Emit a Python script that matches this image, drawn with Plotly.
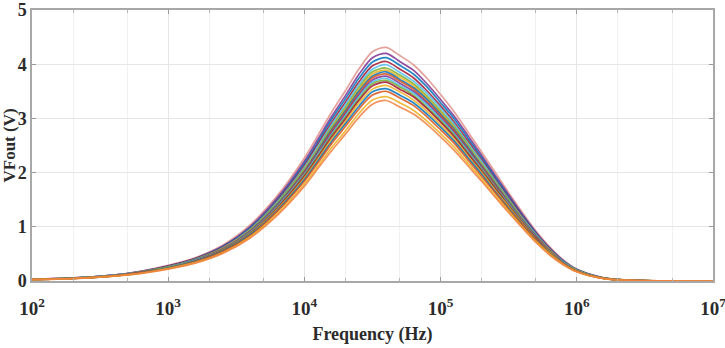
import plotly.graph_objects as go

# Frequency grid (Hz)
freq = [100, 200, 400, 630, 1000, 1580, 2510, 3980, 6310, 10000, 12600, 15800,
        20000, 25100, 31600, 39800, 50100, 63100, 79400, 100000, 126000, 158000,
        200000, 251000, 316000, 398000, 501000, 631000, 794000, 1000000, 1580000,
        2510000, 5010000, 10000000]

# Monte Carlo output curves VFout (V)
run01 = [0.034, 0.057, 0.11, 0.18, 0.29, 0.43, 0.66, 1.03, 1.57, 2.27, 2.69, 3.11, 3.51, 3.91, 4.23, 4.31, 4.16, 3.99, 3.74, 3.44, 3.12, 2.76, 2.38, 2.01, 1.63, 1.27, 0.92, 0.63, 0.39, 0.22, 0.057, 0.014, 0.002, 0]
run02 = [0.033, 0.056, 0.11, 0.18, 0.28, 0.42, 0.64, 1.00, 1.53, 2.21, 2.62, 3.03, 3.42, 3.81, 4.12, 4.20, 4.05, 3.89, 3.64, 3.35, 3.04, 2.69, 2.32, 1.95, 1.59, 1.23, 0.90, 0.61, 0.38, 0.21, 0.056, 0.013, 0.002, 0]
run03 = [0.033, 0.055, 0.11, 0.17, 0.27, 0.41, 0.63, 0.98, 1.50, 2.17, 2.57, 2.98, 3.36, 3.74, 4.04, 4.12, 3.98, 3.82, 3.58, 3.29, 2.99, 2.64, 2.28, 1.92, 1.56, 1.21, 0.88, 0.60, 0.37, 0.21, 0.055, 0.013, 0.002, 0]
run04 = [0.032, 0.054, 0.11, 0.17, 0.27, 0.41, 0.62, 0.96, 1.48, 2.13, 2.53, 2.92, 3.30, 3.67, 3.97, 4.05, 3.91, 3.75, 3.51, 3.23, 2.93, 2.59, 2.24, 1.88, 1.53, 1.19, 0.87, 0.59, 0.36, 0.20, 0.054, 0.013, 0.002, 0]
run05 = [0.032, 0.053, 0.11, 0.17, 0.26, 0.40, 0.61, 0.95, 1.46, 2.10, 2.49, 2.88, 3.25, 3.62, 3.91, 3.99, 3.85, 3.69, 3.46, 3.19, 2.89, 2.55, 2.21, 1.86, 1.51, 1.17, 0.86, 0.58, 0.36, 0.20, 0.053, 0.013, 0.002, 0]
run06 = [0.031, 0.052, 0.10, 0.17, 0.26, 0.40, 0.60, 0.94, 1.44, 2.07, 2.45, 2.84, 3.20, 3.57, 3.86, 3.93, 3.80, 3.64, 3.41, 3.14, 2.85, 2.52, 2.17, 1.83, 1.49, 1.15, 0.84, 0.57, 0.35, 0.20, 0.052, 0.012, 0.002, 0]
run07 = [0.031, 0.052, 0.10, 0.16, 0.26, 0.39, 0.60, 0.93, 1.42, 2.05, 2.43, 2.81, 3.17, 3.53, 3.82, 3.89, 3.76, 3.61, 3.38, 3.11, 2.82, 2.49, 2.15, 1.81, 1.47, 1.14, 0.83, 0.57, 0.35, 0.20, 0.052, 0.012, 0.002, 0]
run08 = [0.031, 0.051, 0.10, 0.16, 0.26, 0.39, 0.59, 0.92, 1.41, 2.03, 2.41, 2.79, 3.14, 3.50, 3.78, 3.86, 3.72, 3.57, 3.35, 3.08, 2.80, 2.47, 2.13, 1.80, 1.46, 1.13, 0.83, 0.56, 0.35, 0.19, 0.051, 0.012, 0.002, 0]
run09 = [0.030, 0.051, 0.10, 0.16, 0.25, 0.38, 0.59, 0.91, 1.39, 2.01, 2.38, 2.76, 3.11, 3.46, 3.75, 3.82, 3.69, 3.54, 3.31, 3.05, 2.77, 2.44, 2.11, 1.78, 1.44, 1.12, 0.82, 0.56, 0.34, 0.19, 0.051, 0.012, 0.002, 0]
run10 = [0.030, 0.050, 0.10, 0.16, 0.25, 0.38, 0.58, 0.90, 1.38, 1.99, 2.36, 2.73, 3.08, 3.43, 3.71, 3.78, 3.65, 3.50, 3.28, 3.02, 2.74, 2.42, 2.09, 1.76, 1.43, 1.11, 0.81, 0.55, 0.34, 0.19, 0.050, 0.012, 0.002, 0]
run11 = [0.030, 0.050, 0.10, 0.16, 0.25, 0.38, 0.57, 0.89, 1.37, 1.97, 2.34, 2.70, 3.05, 3.40, 3.67, 3.74, 3.61, 3.47, 3.25, 2.99, 2.71, 2.40, 2.07, 1.74, 1.42, 1.10, 0.80, 0.54, 0.34, 0.19, 0.050, 0.012, 0.002, 0]
run12 = [0.029, 0.049, 0.098, 0.16, 0.25, 0.37, 0.57, 0.88, 1.35, 1.95, 2.31, 2.68, 3.02, 3.36, 3.64, 3.70, 3.58, 3.43, 3.21, 2.96, 2.69, 2.37, 2.05, 1.73, 1.40, 1.09, 0.79, 0.54, 0.33, 0.19, 0.049, 0.012, 0.002, 0]
run13 = [0.029, 0.049, 0.097, 0.16, 0.24, 0.37, 0.56, 0.87, 1.34, 1.93, 2.29, 2.65, 2.99, 3.33, 3.60, 3.67, 3.54, 3.40, 3.18, 2.93, 2.66, 2.35, 2.03, 1.71, 1.39, 1.08, 0.79, 0.53, 0.33, 0.18, 0.049, 0.012, 0.002, 0]
run14 = [0.029, 0.048, 0.096, 0.15, 0.24, 0.36, 0.55, 0.86, 1.32, 1.90, 2.25, 2.61, 2.94, 3.28, 3.54, 3.61, 3.49, 3.34, 3.13, 2.88, 2.62, 2.31, 2.00, 1.68, 1.37, 1.06, 0.77, 0.53, 0.32, 0.18, 0.048, 0.011, 0.002, 0]
run15 = [0.028, 0.047, 0.094, 0.15, 0.24, 0.36, 0.55, 0.85, 1.30, 1.87, 2.22, 2.57, 2.90, 3.22, 3.49, 3.55, 3.43, 3.29, 3.08, 2.84, 2.58, 2.28, 1.97, 1.65, 1.34, 1.04, 0.76, 0.52, 0.32, 0.18, 0.047, 0.011, 0.002, 0]
run16 = [0.028, 0.046, 0.093, 0.15, 0.23, 0.35, 0.54, 0.83, 1.28, 1.84, 2.18, 2.53, 2.85, 3.17, 3.43, 3.50, 3.38, 3.24, 3.03, 2.79, 2.54, 2.24, 1.93, 1.63, 1.32, 1.03, 0.75, 0.51, 0.32, 0.18, 0.046, 0.011, 0.002, 0]
run17 = [0.027, 0.045, 0.090, 0.14, 0.23, 0.34, 0.52, 0.81, 1.24, 1.79, 2.12, 2.46, 2.77, 3.09, 3.34, 3.40, 3.29, 3.15, 2.95, 2.72, 2.47, 2.18, 1.88, 1.58, 1.29, 1.00, 0.73, 0.50, 0.31, 0.17, 0.045, 0.011, 0.002, 0]
run18 = [0.026, 0.044, 0.088, 0.14, 0.22, 0.33, 0.51, 0.79, 1.21, 1.75, 2.08, 2.40, 2.71, 3.02, 3.26, 3.33, 3.21, 3.08, 2.89, 2.66, 2.41, 2.13, 1.84, 1.55, 1.26, 0.98, 0.71, 0.48, 0.30, 0.17, 0.044, 0.011, 0.002, 0]

runs = [run01, run02, run03, run04, run05, run06, run07, run08, run09,
        run10, run11, run12, run13, run14, run15, run16, run17, run18]

colors = ["#E0908A", "#7E2F8E", "#0072BD", "#A2142F", "#4DBEEE", "#77AC30",
          "#EDB120", "#0072BD", "#D95319", "#7E2F8E", "#4DBEEE", "#77AC30",
          "#A2142F", "#EDB120", "#0072BD", "#D95319", "#EDB120", "#F08040"]

xtick_vals = [1e2, 1e3, 1e4, 1e5, 1e6, 1e7]
xtick_text = ["10<sup>2</sup>", "10<sup>3</sup>", "10<sup>4</sup>",
              "10<sup>5</sup>", "10<sup>6</sup>", "10<sup>7</sup>"]
ytick_vals = [0, 1, 2, 3, 4, 5]

fig = go.Figure()
for r, c in zip(runs, colors):
    fig.add_trace(go.Scatter(x=freq, y=r, mode="lines",
                             line=dict(color=c, width=1.7, shape="spline", smoothing=0.8),
                             opacity=0.85, showlegend=False, hoverinfo="skip"))

txt = "#2B2B2B"
fig.update_layout(
    width=725, height=348,
    margin=dict(l=32, r=12, t=10, b=67, autoexpand=False),
    paper_bgcolor="white", plot_bgcolor="white",
    showlegend=False,
    font=dict(family="Liberation Serif", size=17, color=txt, weight="bold"),
)
fig.update_xaxes(
    type="log", range=[2, 7], automargin=False,
    tickvals=xtick_vals, ticktext=xtick_text,
    tickfont=dict(family="Liberation Serif", size=19, color=txt, weight="bold"),
    ticklabelstandoff=9, ticklabeloverflow="allow",
    ticks="inside", ticklen=4, tickcolor="#999999",
    showline=True, linecolor="#A8A8A8", linewidth=1.5, mirror="ticks",
    showgrid=True, gridcolor="#E6E6E6", gridwidth=1,
    minor=dict(ticks="inside", ticklen=3, tickcolor="#B5B5B5", showgrid=True,
               gridcolor="#F1F1F1", gridwidth=1),
    title=dict(text="Frequency (Hz)", standoff=10,
               font=dict(family="Liberation Serif", size=18, color=txt, weight="bold")),
    zeroline=False,
)
fig.update_yaxes(
    range=[0, 5], tickvals=ytick_vals, automargin=False,
    tickfont=dict(family="Liberation Serif", size=18, color=txt, weight="bold"),
    ticklabeloverflow="allow",
    ticks="inside", ticklen=4, tickcolor="#999999",
    showline=True, linecolor="#A8A8A8", linewidth=1.5, mirror="ticks",
    showgrid=True, gridcolor="#E6E6E6", gridwidth=1,
    zeroline=False,
)
fig.add_annotation(text="VFout (V)", xref="paper", yref="paper", x=0, y=0.5,
                   xshift=-23, textangle=-90, showarrow=False, xanchor="center",
                   font=dict(family="Liberation Serif", size=17, color=txt, weight="bold"))

fig.write_html("out.html")
